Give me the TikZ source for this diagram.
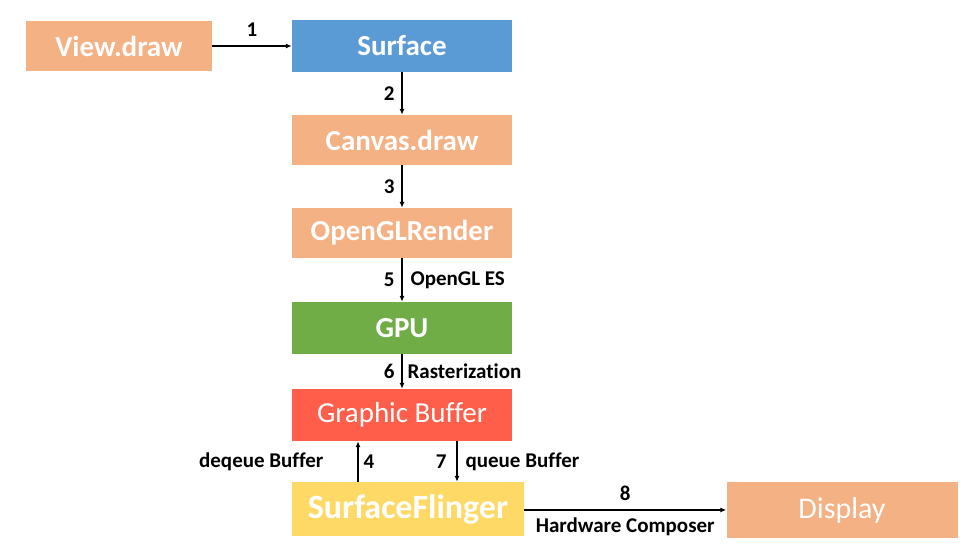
\documentclass[tikz,border=0pt]{standalone}
\usepackage{fontspec}
\setmainfont[Ligatures=NoCommon]{Carlito}
\usetikzlibrary{arrows.meta}
\definecolor{peach}{HTML}{F4B183}
\definecolor{sblue}{HTML}{5B9BD5}
\definecolor{sgreen}{HTML}{70AD47}
\definecolor{sred}{HTML}{FF5E4A}
\definecolor{syellow}{HTML}{FFD966}
\tikzset{
  box/.style={rectangle, inner sep=0pt, text=white, font=\fontsize{29}{30}\selectfont\bfseries},
  lbl/.style={inner sep=0pt, font=\fontsize{21}{23}\selectfont\bfseries, text=black},
  arr/.style={line width=1.2pt, -{Latex[length=6pt,width=5pt]}}
}
\begin{document}
\begin{tikzpicture}[x=1pt,y=-1pt]
\useasboundingbox (0,0) rectangle (966,550);
\node[box, fill=peach, minimum width=186pt, minimum height=50pt] (view) at (119,46) {View.draw};
\node[box, fill=sblue, minimum width=220pt, minimum height=52pt] (surf) at (402,46) {Surface};
\node[box, fill=peach, minimum width=220pt, minimum height=50pt] (canvas) at (402,140) {Canvas.draw};
\node[box, fill=peach, minimum width=220pt, minimum height=50pt] (ogl) at (402,233) {OpenGLRender};
\node[box, fill=sgreen, minimum width=220pt, minimum height=52pt] (gpu) at (402,328) {GPU};
\node[box, fill=sred, minimum width=220pt, minimum height=52pt, font=\fontsize{29}{30}\selectfont] (gb) at (402,415) {Graphic Buffer};
\node[box, fill=syellow, minimum width=232pt, minimum height=54pt, font=\fontsize{34}{36}\selectfont\bfseries] (sf) at (408,509) {SurfaceFlinger};
\node[box, fill=peach, minimum width=231pt, minimum height=56pt, font=\fontsize{30}{32}\selectfont] (disp) at (842,510) {Display};

\coordinate (c4) at (358,0);
\coordinate (c7) at (457,0);
\coordinate (c8) at (0,510);

\draw[arr] (view) -- (surf) node[lbl, midway, above=9pt] (l1) {1};
\draw[arr] (surf) -- (canvas) node[lbl, midway, left=7pt] (l2) {2};
\draw[arr] (canvas) -- (ogl) node[lbl, midway, left=7pt] (l3) {3};
\draw[arr] (ogl) -- (gpu) node[lbl, midway, left=7pt] (l5) {5} node[lbl, midway, right=8pt] (t5) {OpenGL ES};
\draw[arr] (gpu) -- (gb) node[lbl, midway, left=7pt] (l6) {6} node[lbl, midway, right=5pt] (t6) {Rasterization};
\draw[arr] (sf.north -| c4) -- (gb.south -| c4) node[lbl, midway, right=5pt] (l4) {4} node[lbl, midway, left=34pt] (t4) {deqeue Buffer};
\draw[arr] (gb.south -| c7) -- (sf.north -| c7) node[lbl, midway, left=10pt] (l7) {7} node[lbl, midway, right=8pt] (t7) {queue Buffer};
\draw[arr] (sf.east |- c8) -- (disp.west |- c8) node[lbl, midway, above=9pt] (l8) {8} node[lbl, midway, below=7pt] (t8) {Hardware Composer};
\end{tikzpicture}
\end{document}
